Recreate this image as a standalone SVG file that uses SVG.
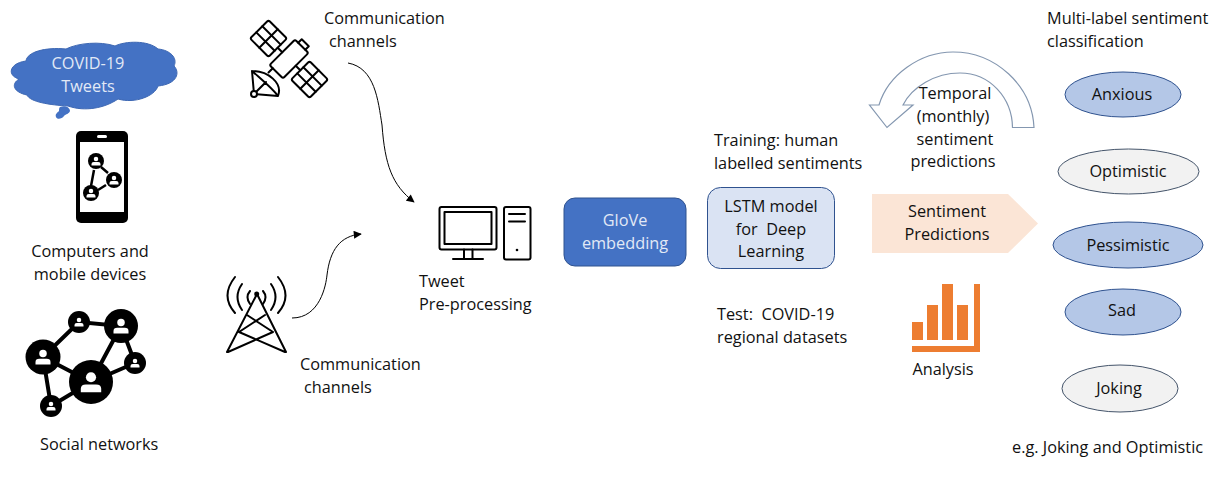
<svg xmlns="http://www.w3.org/2000/svg" width="1223" height="489" viewBox="0 0 1223 489">
<style>
text{font-family:"Open Sans","Noto Sans","Liberation Sans",sans-serif;font-size:16.3px;fill:#111;white-space:pre}
.c{text-anchor:middle}
.l{fill:#e2e9f6}
.i{fill:none;stroke:#000;stroke-width:2;stroke-linejoin:round;stroke-linecap:round}
.conn{fill:none;stroke:#000;stroke-width:1}
.blue{fill:#b4c7e7;stroke:#2f528f;stroke-width:1}
.gray{fill:#f2f2f2;stroke:#44546a;stroke-width:1}
.k{fill:#000}
.w{fill:#fff}
</style>
<defs>
<marker id="ah" viewBox="0 0 10 10" refX="9" refY="5" markerWidth="9" markerHeight="8" markerUnits="userSpaceOnUse" orient="auto"><path d="M0,0L10,5L0,10Z" fill="#000"/></marker>
<g id="p"><circle cx="0" cy="-2.800" r="3" class="w"/><path class="w" d="M-6,6v-2q0,-2.600 3,-2.600h6q3,0 3,2.600v2Z"/></g>
</defs>
<rect width="1223" height="489" fill="#fff"/>

<g id="cloud">
<path fill="#4472c4" stroke="#3e68b3" stroke-width="1" d="M26,61C27,52 45,47 66,49C78,43 100,41 115,46C125,41 148,40 158,49C170,50 178,58 174,66C180,72 178,84 158,86C155,96 135,104 118,99C105,108 85,112 68,106C50,105 30,102 27,95C13,92 11,84 19,79C6,75 10,63 26,61Z"/>
<path fill="#4472c4" d="M60,107c6,-2 10,1 10,4c-1,3 -4,3 -6,5c-2,3 -7,4 -8,1c-1,-3 1,-4 3,-6c0,-2 0,-3 1,-4Z"/>
<text class="c l" x="88" y="69">COVID-19</text>
<text class="c l" x="88" y="92">Tweets</text>
</g>

<g id="phone">
<rect x="76" y="131" width="52" height="92" rx="5" class="k"/>
<rect x="80" y="142" width="44" height="70" class="w"/>
<rect x="97" y="135" width="10" height="3" rx="1.500" class="w"/>
<path d="M94,170L91,186M101,167L108,173M106,185L98,190" stroke="#000" stroke-width="2.500"/>
<circle cx="96" cy="161" r="8" class="k"/><circle cx="114" cy="180" r="8" class="k"/><circle cx="91" cy="193" r="8" class="k"/>
<use href="#p" transform="translate(96,161) scale(.75)"/><use href="#p" transform="translate(114,180) scale(.75)"/><use href="#p" transform="translate(91,193) scale(.75)"/>
<text class="c" x="90" y="257">Computers and</text>
<text class="c" x="90" y="280">mobile devices</text>
</g>

<g id="social">
<path d="M43,357L79,322L121,326L135,363L91,382L51,406L43,357M43,357L91,382L121,326" fill="none" stroke="#000" stroke-width="4"/>
<circle cx="43" cy="357" r="17.500" class="k"/><circle cx="79" cy="322" r="11" class="k"/><circle cx="121" cy="326" r="17" class="k"/><circle cx="135" cy="363" r="11" class="k"/><circle cx="91" cy="382" r="22" class="k"/><circle cx="51" cy="406" r="11" class="k"/>
<use href="#p" transform="translate(43,357) scale(1.25)"/><use href="#p" transform="translate(79,322) scale(.75)"/><use href="#p" transform="translate(121,326) scale(1.25)"/><use href="#p" transform="translate(135,363) scale(.75)"/><use href="#p" transform="translate(91,382) scale(1.7)"/><use href="#p" transform="translate(51,406) scale(.75)"/>
<text x="40" y="450">Social networks</text>
</g>

<g id="satellite">
<g class="i" transform="translate(289,59) rotate(45)">
<rect x="-9.500" y="-18" width="19" height="36" rx="2"/>
<rect x="-42" y="-13" width="26" height="26" rx="2"/><path d="M-42,-4.300H-16M-42,4.300H-16M-29,-13V13M-16,0H-9.500"/>
<rect x="16" y="-13" width="26" height="26" rx="2"/><path d="M16,-4.300H42M16,4.300H42M29,-13V13M9.500,0H16"/>
<path d="M-5,-18V-23H5V-18"/>
<path d="M-5,18V24"/>
</g>
<path class="i" d="M252,71C268,71 283,83 278,96C272,88 262,80 252,71ZM254,94L252,71M254,94L278,96M254,94L266,82"/>
<circle cx="254" cy="94" r="3" fill="#fff" stroke="#000" stroke-width="2"/>
<text x="324" y="24">Communication</text>
<text x="329" y="47">channels</text>
</g>

<g id="tower">
<path class="i" d="M257,294L227,352M257,294L286,352M247,315L273,332M265,315L239,332M239,332L285,352M273,332L228,352"/>
<circle cx="256.700" cy="294" r="2.500" class="k"/>
<path class="i" d="M250,291q-5,6 0,13M263,291q5,6 0,13M242,284q-9,13 0,26M271,284q9,13 0,26M235,277q-15,19 0,36M278,277q15,19 0,36"/>
<text x="300" y="370">Communication</text>
<text x="304" y="393">channels</text>
</g>

<g id="computer">
<rect x="439.500" y="207" width="57" height="42.500" rx="2" class="i"/>
<rect x="444.500" y="212" width="47" height="32" class="i"/>
<path class="i" d="M464,249.500V259M472.500,249.500V259M453,259H483"/>
<rect x="504" y="207" width="26.500" height="52.500" rx="2" class="i"/>
<path class="i" d="M509,214H525M509,221.500H525"/>
<circle cx="517" cy="250" r="1.300" class="k"/>
<text x="419" y="287">Tweet</text>
<text x="419" y="310">Pre-processing</text>
</g>

<g id="glove">
<rect x="564" y="198" width="122" height="68" rx="11" fill="#4472c4" stroke="#2f528f"/>
<text class="c l" x="625" y="226">GloVe</text>
<text class="c l" x="625" y="249">embedding</text>
</g>

<g id="lstm">
<text x="714" y="146">Training: human</text>
<text x="714" y="169">labelled sentiments</text>
<rect x="707.500" y="187.500" width="127" height="81" rx="13" fill="#dae3f3" stroke="#2f528f"/>
<text class="c" x="771" y="212">LSTM model</text>
<text class="c" x="771" y="235">for  Deep</text>
<text class="c" x="771" y="257">Learning</text>
<text x="717" y="320">Test:  COVID-19</text>
<text x="717" y="343">regional datasets</text>
</g>

<g id="temporal">
<path fill="#fff" stroke="#8497b0" stroke-width="1.200" d="M1034,127.500C1032,85 995,52 953,52C920,52 888,75 879,105H869.500L887,127.500L913,105H903C912,87 935,73 960,73C990,73 1012,98 1012.500,127.500Z"/>
<text class="c" x="955" y="99">Temporal</text>
<text class="c" x="953" y="122">(monthly)</text>
<text class="c" x="955" y="145">sentiment</text>
<text class="c" x="953" y="167">predictions</text>
</g>

<g id="predictions">
<path d="M872,194H1008L1038,223.500L1008,253H872Z" fill="#fbe5d6"/>
<text class="c" x="947" y="217">Sentiment</text>
<text class="c" x="947" y="240">Predictions</text>
</g>

<g id="analysis">
<path fill="#ed7d31" d="M912,322h11v18h-11ZM927,305h11v35h-11ZM942,284h11v56h-11ZM957,305h11v35h-11ZM974,284h6v68h-68v-6h62Z"/>
<text class="c" x="943" y="375">Analysis</text>
</g>

<g id="labels">
<text x="1047" y="24">Multi-label sentiment</text>
<text x="1047" y="47">classification</text>
<text x="1012" y="453">e.g. Joking and Optimistic</text>
</g>
<g id="anxious"><ellipse cx="1123" cy="94.500" rx="58" ry="22.500" class="blue"/><text class="c" x="1122" y="100">Anxious</text></g>
<g id="optimistic"><ellipse cx="1128.500" cy="171.500" rx="70.500" ry="22.500" class="gray"/><text class="c" x="1128" y="177">Optimistic</text></g>
<g id="pessimistic"><ellipse cx="1128" cy="245" rx="75" ry="23" class="blue"/><text class="c" x="1128" y="251">Pessimistic</text></g>
<g id="sad"><ellipse cx="1123" cy="312" rx="58" ry="23" class="blue"/><text class="c" x="1122" y="316">Sad</text></g>
<g id="joking"><ellipse cx="1120" cy="388.500" rx="58" ry="23.500" class="gray"/><text class="c" x="1119" y="394">Joking</text></g>

<g id="connectors">
<path class="conn" marker-end="url(#ah)" d="M348,63C375,68 378,100 382,125C385,165 392,185 414,202"/>
<path class="conn" marker-end="url(#ah)" d="M292,318C320,318 326,285 327,275C330,250 340,236 361,234"/>
</g>
</svg>
